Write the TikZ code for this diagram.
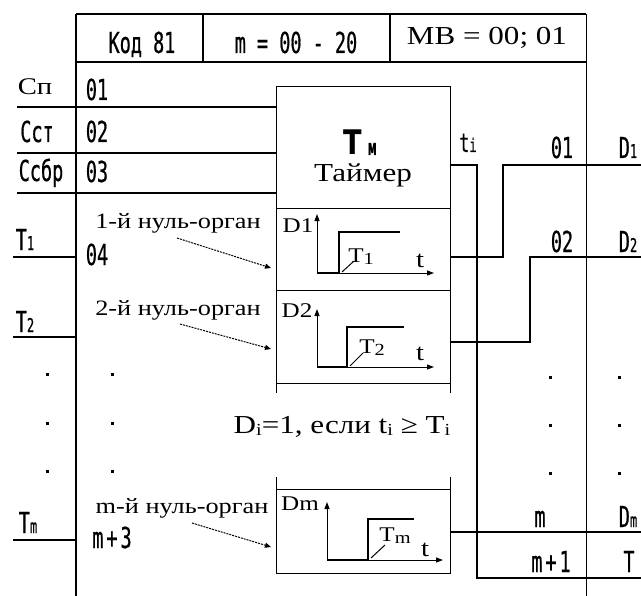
\documentclass[tikz,border=0pt]{standalone}
\usepackage{fontspec}
\setmainfont{Liberation Serif}
\newfontfamily\pixf[FakeStretch=0.64,FakeBold=0.6]{DejaVu Sans Mono}
\newfontfamily\serf[FakeStretch=1.2]{Liberation Serif}
\newfontfamily\bsans[FakeStretch=0.8]{DejaVu Sans}
\usetikzlibrary{arrows.meta}
\newcommand\pixsm[1]{{\pixf\fontsize{19}{19}\selectfont #1}}
\newcommand\sersub[1]{\raisebox{-2bp}{\fontsize{17}{17}\selectfont #1}}
\tikzset{
  thinl/.style={line width=1bp},
  frame/.style={line width=1.5bp},
  thickl/.style={line width=2.8bp},
  pix/.style={font=\pixf\fontsize{29}{29}\selectfont, inner sep=0pt, anchor=base},
  ser/.style={font=\serf\fontsize{22}{22}\selectfont, inner sep=0pt, anchor=base},
  sersm/.style={font=\serf\fontsize{21}{21}\selectfont, inner sep=0pt, anchor=base},
  tlab/.style={font=\serf\fontsize{24}{24}\selectfont, inner sep=0pt, anchor=base},
  dotn/.style={rectangle, fill=black, inner sep=0pt, minimum size=3bp},
  pointer/.style={thinl, dash pattern=on 2bp off 1bp, -{Triangle[length=6bp,width=5bp]}},
  axis/.style={thinl, -{Triangle[length=7bp,width=5bp]}},
}
\begin{document}
\begin{tikzpicture}[x=1bp,y=-1bp]
\useasboundingbox (0,0) rectangle (641,596);
% ---------- frame ----------
\coordinate (ftl) at (76,14);
\coordinate (ftr) at (586,14);
\coordinate (fbl) at (76,596);
\coordinate (fbr) at (586,596);
\draw[line width=2bp] (ftl) -- (ftr);
\draw[frame] (ftl) -- (fbl);
\draw[thinl] (ftr) -- (fbr);
\coordinate (hl) at (76,62);
\coordinate (hr) at (586,62);
\draw[frame] (hl) -- (hr);
\coordinate (d1t) at (203,14); \coordinate (d1b) at (203,62);
\coordinate (d2t) at (390,14); \coordinate (d2b) at (390,62);
\draw[line width=2.5bp] (d1t) -- (d1b);
\draw[line width=2.5bp] (d2t) -- (d2b);
\node[pix] (kod) at (142,53) {Код 81};
\node[pix] (mrange) at (296,53) {m = 00 - 20};
\node[ser, font=\serf\fontsize{26}{26}\selectfont] (mb) at (487,45) {MB = 00; 01};
% ---------- blocks ----------
\coordinate (tmA) at (276,87);  \coordinate (tmB) at (450,208);
\draw[thinl] (tmA) rectangle (tmB);
\coordinate (n1A) at (276,208); \coordinate (n1B) at (450,290);
\draw[thinl] (n1A) rectangle (n1B);
\coordinate (n2A) at (276,290); \coordinate (n2B) at (450,383);
\draw[thinl] (n2A) rectangle (n2B);
\coordinate (tk1a) at (276,383); \coordinate (tk1b) at (276,393);
\coordinate (tk2a) at (450,383); \coordinate (tk2b) at (450,393);
\draw[thinl] (tk1a) -- (tk1b) (tk2a) -- (tk2b);
\coordinate (nmA) at (276,489); \coordinate (nmB) at (450,573);
\draw[thinl] (nmA) rectangle (nmB);
\coordinate (tk3a) at (276,477); \coordinate (tk3b) at (276,489);
\coordinate (tk4a) at (450,477); \coordinate (tk4b) at (450,489);
\draw[thinl] (tk3a) -- (tk3b) (tk4a) -- (tk4b);
% timer text
\node[inner sep=0pt, anchor=base] (tmT) at (360,155) {\bsans\fontsize{34}{34}\selectfont\bfseries Т\hspace{6bp}{\pixf\fontsize{22}{22}\selectfont м}};
\node[ser, font=\serf\fontsize{26}{26}\selectfont] (tmName) at (363,182) {Таймер};
% ---------- inputs ----------
\node[ser, font=\serf\fontsize{24}{24}\selectfont] (csp) at (35,95) {Сп};
\node[pix] (cst) at (37,142) {Сст};
\node[pix] (csb) at (41,181) {Ссбр};
\coordinate (l1a) at (17,107); \coordinate (l1b) at (276,107);
\coordinate (l2a) at (17,153); \coordinate (l2b) at (276,153);
\coordinate (l3a) at (17,193); \coordinate (l3b) at (276,193);
\draw[thickl] (l1a) -- (l1b);
\draw[thickl] (l2a) -- (l2b);
\draw[thickl] (l3a) -- (l3b);
\node[pix] (n01) at (97,100) {01};
\node[pix] (n02) at (97,142) {02};
\node[pix] (n03) at (97,182) {03};
\node[pix] (n04) at (97,265) {04};
\node[pix] (nm3) at (112,548) {m\hspace{3bp}+\hspace{3bp}3};
\node[pix] (inT1) at (25,250) {T\pixsm{1}};
\node[pix] (inT2) at (25,332) {T\pixsm{2}};
\node[pix] (inTm) at (28,533) {T\pixsm{m}};
\coordinate (i1a) at (13,257); \coordinate (i1b) at (76,257);
\coordinate (i2a) at (13,337); \coordinate (i2b) at (76,337);
\coordinate (i3a) at (13,540); \coordinate (i3b) at (76,540);
\draw[thickl] (i1a) -- (i1b);
\draw[thickl] (i2a) -- (i2b);
\draw[thickl] (i3a) -- (i3b);
% left dots
\foreach \yy [count=\k] in {374,423,471}{
  \node[dotn] (ldA\k) at (47,\yy) {};
  \node[dotn] (ldB\k) at (112,\yy) {};
}
% ---------- null-organ labels ----------
\node[ser] (no1) at (178,228) {1-й нуль-орган};
\node[ser] (no2) at (178,315) {2-й нуль-орган};
\node[ser] (nom) at (182,513) {m-й нуль-орган};
\coordinate (p1a) at (177,238); \coordinate (p1b) at (271,268);
\coordinate (p2a) at (180,324); \coordinate (p2b) at (271,349);
\coordinate (p3a) at (192,523); \coordinate (p3b) at (271,547);
\draw[pointer] (p1a) -- (p1b);
\draw[pointer] (p2a) -- (p2b);
\draw[pointer] (p3a) -- (p3b);
% ---------- graphs ----------
% graph 1
\node[sersm] (g1D) at (298,232) {D1};
\coordinate (g1o) at (317,273);
\coordinate (g1y) at (317,214);
\coordinate (g1x) at (434,273);
\draw[axis] (g1o) -- (g1y);
\draw[axis] (g1o) -- (g1x);
\coordinate (g1s) at (339,273); \coordinate (g1u) at (339,232); \coordinate (g1e) at (400,232);
\draw[thickl] (g1o) -- (g1s) -- (g1u) -- (g1e);
\coordinate (g1la) at (342,272); \coordinate (g1lb) at (354,261);
\draw[thinl] (g1la) -- (g1lb);
\node[sersm] (g1T) at (361,262) {T\sersub{1}};
\node[tlab] (g1t) at (420,267) {t};
% graph 2
\node[sersm] (g2D) at (297,317) {D2};
\coordinate (g2o) at (317,367);
\coordinate (g2y) at (317,309);
\coordinate (g2x) at (434,367);
\draw[axis] (g2o) -- (g2y);
\draw[axis] (g2o) -- (g2x);
\coordinate (g2s) at (347,367); \coordinate (g2u) at (347,327); \coordinate (g2e) at (404,327);
\draw[thickl] (g2o) -- (g2s) -- (g2u) -- (g2e);
\coordinate (g2la) at (350,366); \coordinate (g2lb) at (363,353);
\draw[thinl] (g2la) -- (g2lb);
\node[sersm] (g2T) at (372,353) {T\sersub{2}};
\node[tlab] (g2t) at (420,360) {t};
% graph m
\node[sersm] (gmD) at (300,510) {Dm};
\coordinate (gmo) at (327,560);
\coordinate (gmy) at (327,502);
\coordinate (gmx) at (443,560);
\draw[axis] (gmo) -- (gmy);
\draw[axis] (gmo) -- (gmx);
\coordinate (gms) at (368,560); \coordinate (gmu) at (368,519); \coordinate (gme) at (414,519);
\draw[thickl] (gmo) -- (gms) -- (gmu) -- (gme);
\coordinate (gmla) at (371,558); \coordinate (gmlb) at (385,545);
\draw[thinl] (gmla) -- (gmlb);
\node[sersm] (gmT) at (395,541) {T\sersub{m}};
\node[tlab] (gmt) at (425,556) {t};
% condition
\node[ser, font=\serf\fontsize{26}{26}\selectfont] (cond) at (342,433) {D\sersub{i}=1, если t\sersub{i} ≥ T\sersub{i}};
% ---------- outputs ----------
\node[pix, font=\pixf\fontsize{26}{26}\selectfont] (tiL) at (468,152) {t\pixsm{i}};
\coordinate (ti0) at (450,165); \coordinate (ti1) at (477,165);
\coordinate (ti2) at (477,578); \coordinate (ti3) at (641,578);
\draw[thickl] (ti0) -- (ti1) -- (ti2) -- (ti3);
\coordinate (o10) at (450,257); \coordinate (o11) at (503,257);
\coordinate (o12) at (503,165); \coordinate (o13) at (641,165);
\draw[thickl] (o10) -- (o11) -- (o12) -- (o13);
\coordinate (o20) at (450,342); \coordinate (o21) at (530,342);
\coordinate (o22) at (530,257); \coordinate (o23) at (641,257);
\draw[thickl] (o20) -- (o21) -- (o22) -- (o23);
\coordinate (om0) at (450,532); \coordinate (om1) at (641,532);
\draw[thickl] (om0) -- (om1);
\node[pix] (r01) at (562,158) {01};
\node[pix] (rD1) at (628,158) {D\pixsm{1}};
\node[pix] (r02) at (562,252) {02};
\node[pix] (rD2) at (628,252) {D\pixsm{2}};
\node[pix] (rm) at (540,527) {m};
\node[pix] (rDm) at (628,527) {D\pixsm{m}};
\node[pix] (rm1) at (551,572) {m\hspace{3bp}+\hspace{3bp}1};
\node[pix] (rT) at (629,572) {T};
\foreach \yy [count=\k] in {377,425,473}{
  \node[dotn] (rdA\k) at (550,\yy) {};
  \node[dotn] (rdB\k) at (619,\yy) {};
}
\end{tikzpicture}
\end{document}
